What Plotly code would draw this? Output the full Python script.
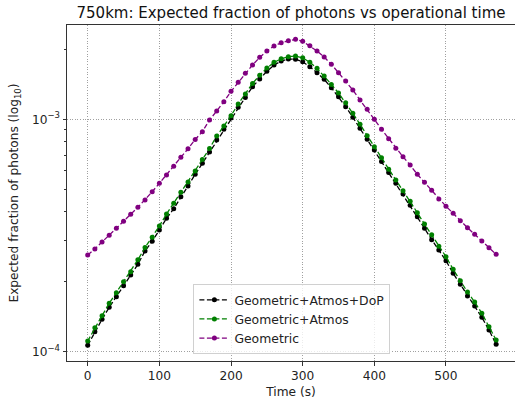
import plotly.graph_objects as go

# Operational time samples (s)
time_s = list(range(0, 580, 10))

# Expected fraction of photons for each loss model
geo_atmos_dop = [
    1.065e-4, 1.219e-4, 1.378e-4, 1.552e-4, 1.725e-4, 1.923e-4, 2.138e-4, 2.377e-4, 2.713e-4, 2.988e-4,
    3.339e-4, 3.750e-4, 4.123e-4, 4.645e-4, 5.164e-4, 5.799e-4, 6.466e-4, 7.232e-4, 8.145e-4, 9.057e-4,
    1.013e-3, 1.126e-3, 1.243e-3, 1.381e-3, 1.491e-3, 1.609e-3, 1.713e-3, 1.782e-3, 1.817e-3, 1.814e-3,
    1.769e-3, 1.684e-3, 1.587e-3, 1.486e-3, 1.368e-3, 1.251e-3, 1.133e-3, 1.020e-3, 9.147e-4, 8.203e-4,
    7.377e-4, 6.583e-4, 5.903e-4, 5.304e-4, 4.771e-4, 4.265e-4, 3.810e-4, 3.396e-4, 3.036e-4, 2.740e-4,
    2.463e-4, 2.175e-4, 1.950e-4, 1.737e-4, 1.572e-4, 1.406e-4, 1.240e-4, 1.076e-4,
]
geo_atmos = [
    1.112e-4, 1.268e-4, 1.429e-4, 1.615e-4, 1.794e-4, 2.001e-4, 2.209e-4, 2.485e-4, 2.807e-4, 3.109e-4,
    3.474e-4, 3.913e-4, 4.350e-4, 4.851e-4, 5.373e-4, 5.990e-4, 6.714e-4, 7.487e-4, 8.475e-4, 9.358e-4,
    1.036e-3, 1.164e-3, 1.285e-3, 1.428e-3, 1.546e-3, 1.663e-3, 1.759e-3, 1.823e-3, 1.859e-3, 1.872e-3,
    1.839e-3, 1.759e-3, 1.658e-3, 1.536e-3, 1.414e-3, 1.298e-3, 1.179e-3, 1.061e-3, 9.517e-4, 8.500e-4,
    7.621e-4, 6.835e-4, 6.092e-4, 5.479e-4, 4.929e-4, 4.437e-4, 3.963e-4, 3.543e-4, 3.187e-4, 2.841e-4,
    2.563e-4, 2.262e-4, 2.020e-4, 1.806e-4, 1.636e-4, 1.463e-4, 1.281e-4, 1.123e-4,
]
geometric = [
    2.606e-4, 2.766e-4, 2.965e-4, 3.169e-4, 3.396e-4, 3.640e-4, 3.902e-4, 4.182e-4, 4.496e-4, 4.881e-4,
    5.304e-4, 5.759e-4, 6.277e-4, 6.864e-4, 7.472e-4, 8.186e-4, 8.844e-4, 9.931e-4, 1.086e-3, 1.190e-3,
    1.320e-3, 1.443e-3, 1.577e-3, 1.713e-3, 1.848e-3, 1.967e-3, 2.067e-3, 2.136e-3, 2.179e-3, 2.210e-3,
    2.166e-3, 2.073e-3, 1.967e-3, 1.854e-3, 1.725e-3, 1.587e-3, 1.462e-3, 1.337e-3, 1.211e-3, 1.104e-3,
    1.000e-3, 9.057e-4, 8.252e-4, 7.502e-4, 6.905e-4, 6.357e-4, 5.799e-4, 5.357e-4, 4.949e-4, 4.540e-4,
    4.224e-4, 3.940e-4, 3.662e-4, 3.416e-4, 3.200e-4, 2.995e-4, 2.802e-4, 2.624e-4,
]

series_names = ["Geometric+Atmos+DoP", "Geometric+Atmos", "Geometric"]
series_colors = ["black", "green", "purple"]
series_values = [geo_atmos_dop, geo_atmos, geometric]

x_ticks = [0, 100, 200, 300, 400, 500]
y_major = [1e-4, 1e-3]
y_major_text = ["10<sup>−4</sup>", "10<sup>−3</sup>"]
y_minor = [k * 1e-4 for k in range(2, 10)] + [2e-3]

FONT = "DejaVu Sans, Verdana, sans-serif"
TXT = 12.2
GRID_DASH = "1px,1.6px"

fig = go.Figure()
for name, color, vals in zip(series_names, series_colors, series_values):
    fig.add_trace(go.Scatter(
        x=time_s, y=vals, name=name, mode="lines+markers",
        line=dict(color=color, width=1.3, dash="5px,2.5px"),
        marker=dict(color=color, size=5, symbol="circle"),
    ))

fig.update_layout(
    width=515, height=405,
    margin=dict(l=67, r=0, t=25, b=44),
    paper_bgcolor="white", plot_bgcolor="white",
    font=dict(family=FONT, size=TXT, color="#222"),
    title=dict(
        text="750km: Expected fraction of photons vs operational time",
        font=dict(family=FONT, size=15, color="#111"),
        x=0.5, xref="paper", xanchor="center",
        y=1 - 12.5 / 405, yref="container", yanchor="middle",
    ),
    showlegend=True,
    legend=dict(
        x=0.502, y=0.02, xanchor="center", yanchor="bottom",
        bgcolor="rgba(255,255,255,0.8)", bordercolor="#d0d0d0", borderwidth=1,
        font=dict(family=FONT, size=12.4, color="#222"),
        tracegroupgap=0, itemwidth=30,
    ),
)

fig.update_xaxes(
    range=[-28.9, 596.3],
    tickmode="array", tickvals=x_ticks,
    tickfont=dict(family=FONT, size=TXT, color="#222"),
    ticks="outside", ticklen=3.5, tickwidth=0.8, tickcolor="#333",
    showline=True, linecolor="#333", linewidth=1, mirror=True,
    showgrid=True, gridcolor="#a0a0a0", gridwidth=0.8, griddash=GRID_DASH,
    zeroline=False,
    title=dict(text="Time (s)", standoff=5,
               font=dict(family=FONT, size=TXT, color="#222")),
)
fig.update_yaxes(
    type="log", range=[-4.040, -2.594],
    tickmode="array", tickvals=y_major, ticktext=y_major_text,
    tickfont=dict(family=FONT, size=TXT, color="#222"),
    ticks="outside", ticklen=3.5, tickwidth=0.8, tickcolor="#333",
    showline=True, linecolor="#333", linewidth=1, mirror=False,
    showgrid=True, gridcolor="#a0a0a0", gridwidth=0.8, griddash=GRID_DASH,
    zeroline=False,
    minor=dict(tickmode="array", tickvals=y_minor, ticks="outside",
               ticklen=2, tickwidth=0.6, tickcolor="#333", showgrid=False),
    title=dict(text="Expected fraction of photons (log<sub>10</sub>)", standoff=10,
               font=dict(family=FONT, size=TXT, color="#222")),
)

fig.write_html("out.html")
